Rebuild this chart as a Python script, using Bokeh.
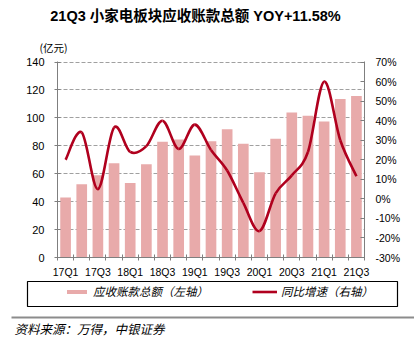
from bokeh.plotting import figure
from bokeh.layouts import column
from bokeh.models import (Range1d, LinearAxis, FixedTicker, PrintfTickFormatter,
                          Label, Legend, LegendItem, ColumnDataSource)
from bokeh.embed import file_html
from bokeh.resources import INLINE

quarters = ["17Q1", "17Q2", "17Q3", "17Q4", "18Q1", "18Q2", "18Q3", "18Q4",
            "19Q1", "19Q2", "19Q3", "19Q4", "20Q1", "20Q2", "20Q3", "20Q4",
            "21Q1", "21Q2", "21Q3"]
receivables = [43, 52.5, 59, 67.5, 53.3, 66.8, 83, 84.5, 73, 83.2, 91.8, 81.5,
               61, 85, 103.8, 101.6, 97.5, 113.5, 115.6]
yoy = [20, 34, 5, 36.5, 24, 27, 40, 25.5, 38, 25, 14.5, -2, -16.5, 2.8, 12,
       24, 60, 30, 11.58]
left_ticks = [0, 20, 40, 60, 80, 100, 120, 140]
right_ticks = [-30, -20, -10, 0, 10, 20, 30, 40, 50, 60, 70]

title = "21Q3 小家电板块应收账款总额 YOY+11.58%"
unit = "(亿元)"
legend_bar = "应收账款总额（左轴）"
legend_line = "同比增速（右轴）"
source_txt = "资料来源：万得，中银证券"

BAR = "#E8AAAA"
RED = "#B0001E"
AX = "#7F7F7F"
FONT = "Liberation Sans, Arial, Noto Sans CJK SC"
CJK = "Noto Sans CJK SC"

W = 414
TITLE_H = 28
RULE_H = 2
UNIT_H = 25
TOP_H = TITLE_H + RULE_H + UNIT_H
MAIN_H = 225
BOT_H = 354 - TOP_H - MAIN_H

idx = list(range(len(quarters)))


def blank(h):
    f = figure(width=W, height=h, output_backend="svg", toolbar_location=None,
               x_range=Range1d(0, W), y_range=Range1d(h, 0), tools="",
               x_axis_type=None, y_axis_type=None, frame_align=False,
               min_border=0, outline_line_color=None)
    f.grid.visible = False
    f.background_fill_color = "white"
    f.border_fill_color = "white"
    return f


# ---- title strip
title_fig = blank(TITLE_H)
title_fig.add_layout(Label(x=195, y=15, text=title, text_font=FONT,
                           text_font_size="14.5px", text_font_style="bold",
                           text_align="center", text_baseline="middle",
                           text_color="#000000"))

# ---- rule under the title (frame filled dark, left border white)
rule = figure(width=W, height=RULE_H, output_backend="svg", toolbar_location=None,
              tools="", x_axis_type=None, y_axis_type=None, frame_align=False,
              min_border=0, min_border_left=11, outline_line_color=None)
rule.grid.visible = False
rule.background_fill_color = "#333333"
rule.border_fill_color = "white"

# ---- unit strip
unit_fig = blank(UNIT_H)
unit_fig.add_layout(Label(x=39, y=17, text=unit, text_font=CJK,
                          text_font_size="10.5px", text_align="left",
                          text_baseline="middle", text_color="#000000"))

# ---- main chart
p = figure(width=W, height=MAIN_H, output_backend="svg", toolbar_location=None,
           x_range=Range1d(-0.5, len(quarters) - 0.5), y_range=Range1d(0, 140.4),
           min_border_left=57, min_border_right=50, min_border_top=61 - TOP_H,
           min_border_bottom=MAIN_H - (61 - TOP_H) - 197, frame_align=False,
           outline_line_color=None, tools="")
p.extra_y_ranges = {"yoy": Range1d(-30, -30 + 100 * 140.4 / 140)}
p.background_fill_color = "white"
p.border_fill_color = "white"

bars = p.vbar(x=idx, top=receivables, width=0.66, fill_color=BAR, line_color=None)

# smooth curve through the data points (rendering only: cubic Bezier segments)
n = len(yoy)
x0s, y0s, x1s, y1s, cx0, cy0, cx1, cy1 = [], [], [], [], [], [], [], []
for i in range(n - 1):
    p0 = (idx[max(i - 1, 0)], yoy[max(i - 1, 0)])
    p1 = (idx[i], yoy[i])
    p2 = (idx[i + 1], yoy[i + 1])
    p3 = (idx[min(i + 2, n - 1)], yoy[min(i + 2, n - 1)])
    x0s.append(p1[0]); y0s.append(p1[1]); x1s.append(p2[0]); y1s.append(p2[1])
    cx0.append(p1[0] + (p2[0] - p0[0]) / 6); cy0.append(p1[1] + (p2[1] - p0[1]) / 6)
    cx1.append(p2[0] - (p3[0] - p1[0]) / 6); cy1.append(p2[1] - (p3[1] - p1[1]) / 6)
bsrc = ColumnDataSource(dict(x0=x0s, y0=y0s, x1=x1s, y1=y1s,
                             cx0=cx0, cy0=cy0, cx1=cx1, cy1=cy1))
p.bezier(x0="x0", y0="y0", x1="x1", y1="y1", cx0="cx0", cy0="cy0",
         cx1="cx1", cy1="cy1", source=bsrc, line_color=RED, line_width=2.6,
         y_range_name="yoy")

p.xgrid.visible = False
p.ygrid.ticker = FixedTicker(ticks=left_ticks[1:])
p.ygrid.grid_line_color = "#A0A0A0"
p.ygrid.grid_line_dash = "4 2"
p.ygrid.grid_line_width = 1

ya = p.yaxis[0]
ya.ticker = FixedTicker(ticks=left_ticks)
ya.axis_line_color = AX
ya.major_tick_line_color = AX
ya.major_tick_in = 3
ya.major_tick_out = 3
ya.minor_tick_line_color = None
ya.major_label_text_font = FONT
ya.major_label_text_font_size = "11px"
ya.major_label_text_color = "#000000"
ya.major_label_standoff = 10

ra = LinearAxis(y_range_name="yoy", ticker=FixedTicker(ticks=right_ticks),
                formatter=PrintfTickFormatter(format="%d%%"))
ra.axis_line_color = AX
ra.major_tick_line_color = AX
ra.major_tick_in = 4
ra.major_tick_out = 0
ra.minor_tick_line_color = None
ra.major_label_text_font = FONT
ra.major_label_text_font_size = "10.5px"
ra.major_label_text_color = "#000000"
ra.major_label_standoff = 11
p.add_layout(ra, "right")

xa = p.xaxis[0]
xa.ticker = FixedTicker(ticks=idx[::2],
                        minor_ticks=[i - 0.5 for i in range(len(quarters) + 1)])
xa.major_label_overrides = {i: quarters[i] for i in idx}
xa.axis_line_color = AX
xa.major_tick_line_color = None
xa.major_tick_in = 0
xa.major_tick_out = 0
xa.minor_tick_line_color = AX
xa.minor_tick_in = 3
xa.minor_tick_out = 3
xa.major_label_text_font = FONT
xa.major_label_text_font_size = "10.5px"
xa.major_label_text_color = "#000000"
xa.major_label_standoff = 5

# ---- bottom strip: legend box, rule, source
bot = blank(BOT_H)
bot.quad(left=[27], right=[397], top=[1], bottom=[26], fill_color="white",
         line_color="#000000", line_width=1.2)
lg_bar = bot.vbar(x=[-100], top=[-100], width=1, fill_color=BAR, line_color=None)
lg_line = bot.line(x=[-100, -99], y=[-100, -100], line_color=RED, line_width=2.6)
legend = Legend(items=[LegendItem(label=legend_bar, renderers=[lg_bar]),
                       LegendItem(label=legend_line, renderers=[lg_line])],
                orientation="horizontal", location=(64, BOT_H - 19),
                padding=0, margin=0, spacing=44, glyph_width=25, glyph_height=5,
                label_standoff=4, label_height=12, border_line_color=None,
                background_fill_alpha=0, label_text_font=CJK,
                label_text_font_size="11.5px", label_text_font_style="italic",
                label_text_color="#000000", label_text_baseline="middle")
bot.add_layout(legend, "center")
bot.quad(left=[11], right=[W], top=[36], bottom=[38], fill_color="#8C8C8C",
         line_color=None)
bot.add_layout(Label(x=14, y=48, text=source_txt, text_font=CJK,
                     text_font_size="12.5px", text_font_style="italic",
                     text_align="left", text_baseline="middle",
                     text_color="#000000"))

layout = column(title_fig, rule, unit_fig, p, bot, spacing=0)
open("out.html", "w").write(file_html(layout, INLINE))
